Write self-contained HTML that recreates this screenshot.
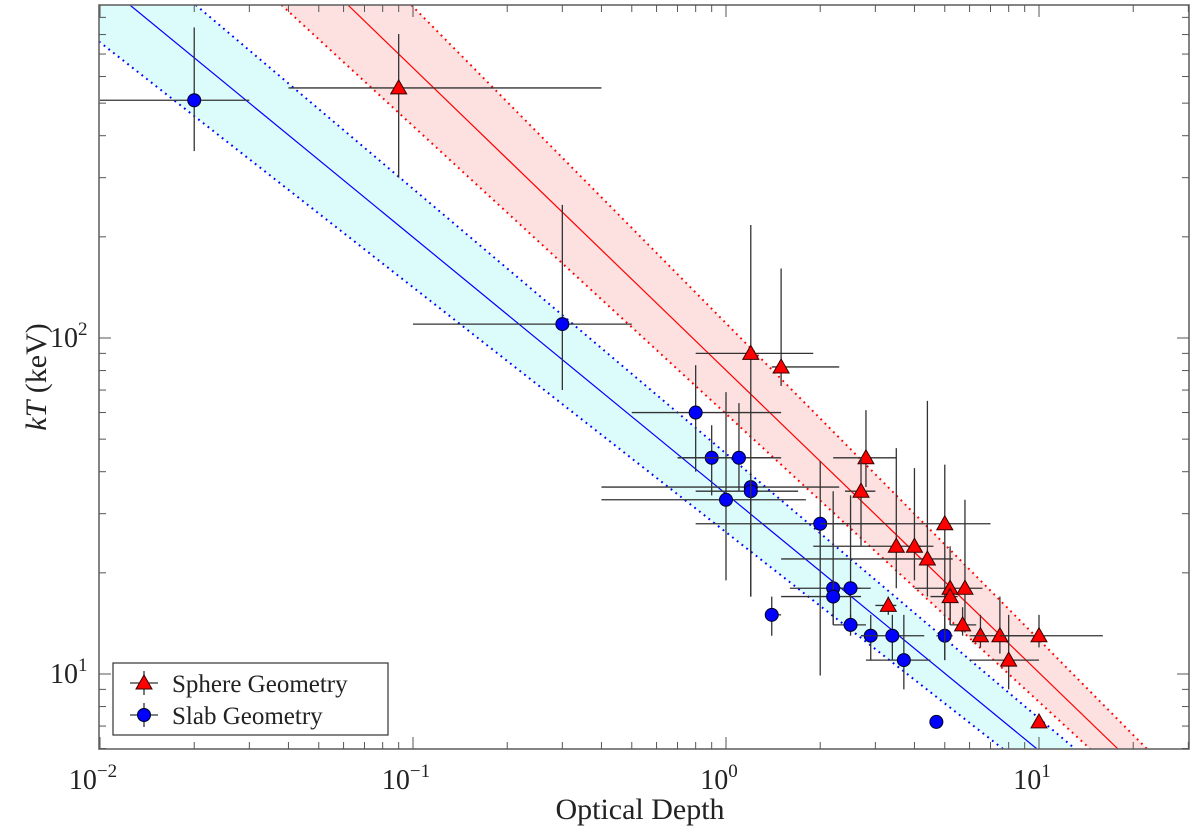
<!DOCTYPE html>
<html><head><meta charset="utf-8"><style>
html,body{margin:0;padding:0;background:#fff;width:1200px;height:830px;overflow:hidden;}
svg{display:block;font-family:"Liberation Serif",serif;}
</style></head><body>
<svg id="chart" width="1200" height="830" viewBox="0 0 1200 830" xmlns="http://www.w3.org/2000/svg">
<defs><clipPath id="clip"><rect x="99" y="5" width="1090" height="744"/></clipPath></defs>
<g id="bands" clip-path="url(#clip)"></g>
<g id="marks"></g>
<g id="axes"></g>
<text x="640" y="819" font-size="30" text-anchor="middle" fill="#222">Optical Depth</text>
<text transform="translate(46,377) rotate(-90)" font-size="30" text-anchor="middle" fill="#222"><tspan font-style="italic">kT</tspan> (keV)</text>
<g>
<rect x="113" y="663" width="275" height="72" fill="#fff" stroke="#333" stroke-width="1.2"/>
<g>
<line x1="130" y1="683" x2="158" y2="683" stroke="#333" stroke-width="1.3"/><line x1="144" y1="671" x2="144" y2="695" stroke="#333" stroke-width="1.3"/>
<polygon points="144,675 152,689 136,689" fill="#f00" stroke="#300" stroke-width="1"/>
<text x="172" y="692" font-size="25" fill="#222">Sphere Geometry</text></g>
<g>
<line x1="130" y1="715" x2="158" y2="715" stroke="#333" stroke-width="1.3"/><line x1="144" y1="703" x2="144" y2="727" stroke="#333" stroke-width="1.3"/>
<circle cx="144" cy="715" r="6.5" fill="#00f" stroke="#002" stroke-width="1"/>
<text x="172" y="724" font-size="25" fill="#222">Slab Geometry</text></g>
</g>
</svg>
<script>
// Slab geometry data
const slabTau   = [0.02, 0.3, 0.8, 0.9, 1.1, 1.2, 1.2, 1.0, 2.0, 2.2, 2.2, 2.5, 2.5, 2.9, 3.4, 3.7, 5.0, 1.4, 4.7];
const slabKT    = [510, 110, 60, 44, 44, 36, 35, 33, 28, 18, 17, 18, 14, 13, 13, 11, 13, 15, 7.2];
const slabTauLo = [0.01, 0.1, 0.5, 0.7, 0.7, 0.4, 0.8, 0.4, 0.8, 1.6, 1.5, 2.3, 2.2, 2.7, 2.7, 2.8, 4.7, 1.35, 4.6];
const slabTauHi = [0.03, 0.5, 1.5, 1.4, 1.5, 2.3, 1.7, 1.8, 3.5, 2.9, 2.7, 2.7, 2.8, 3.0, 4.3, 4.5, 5.3, 1.5, 4.8];
const slabKTLo  = [360, 70, 40, 34, 35, 17, 30, 19, 9.9, 14, 14, 14, 13, 11, 11, 9, 11, 13, 6.9];
const slabKTHi  = [840, 249, 83, 55, 64, 40, 37, 69, 43, 35, 19, 34, 15, 15, 15, 15, 15, 17, 7.5];
// Sphere geometry data
const sphTau   = [0.09, 1.2, 1.5, 2.8, 2.7, 3.5, 4.0, 4.4, 5.0, 5.2, 5.2, 5.8, 5.7, 6.5, 7.5, 8.0, 10, 10, 3.3];
const sphKT    = [555, 90, 82, 44, 35, 24, 24, 22, 28, 18, 17, 18, 14, 13, 13, 11, 13, 7.2, 16];
const sphTauLo = [0.04, 0.8, 1.4, 2.2, 2.4, 1.9, 3.8, 1.5, 2.0, 4.0, 4.5, 5.6, 5.2, 6.2, 6.0, 6.0, 7.5, 9.8, 3.0];
const sphTauHi = [0.4, 1.9, 2.3, 3.5, 3.0, 4.6, 4.2, 5.3, 7.0, 6.6, 5.5, 6.0, 6.3, 6.8, 10, 10, 16, 10.2, 3.5];
const sphKTLo  = [300, 17, 72, 36, 24, 18, 19, 17, 11, 14, 14, 13.3, 13, 12, 11.5, 9, 12, 6.9, 15];
const sphKTHi  = [803, 217, 161, 61, 44, 47, 41, 65, 42, 24, 18, 33, 15.8, 15, 17, 15, 15, 7.5, 17];
// Fit lines: log10(kT) = intercept + slope*log10(tau)
const fitNames      = ['slab-fit', 'slab-fit-upper', 'slab-fit-lower', 'sphere-fit', 'sphere-fit-lower', 'sphere-fit-upper'];
const fitIntercepts = [1.536, 1.656, 1.422, 1.904, 1.774, 2.044];
const fitSlopes     = [-0.764, -0.788, -0.729, -0.900, -0.857, -0.942];
// Tick labels
const xMajorTicks = [0.01, 0.1, 1, 10];
const xTickExp    = ['−2', '−1', '0', '1'];
const yMajorTicks = [10, 100];
const yTickExp    = ['1', '2'];

const X0 = 99, X1 = 1189, Y0 = 5, Y1 = 749;
const xs = v => 1039 + 313 * (Math.log10(v) - 1);
const ys = v => 338 - 336 * (Math.log10(v) - 2);
const xinv = px => Math.pow(10, (px - 1039) / 313 + 1);
const yinv = py => Math.pow(10, 2 + (338 - py) / 336);
const NS = 'http://www.w3.org/2000/svg';
function mk(tag, attrs, parent) {
  const e = document.createElementNS(NS, tag);
  for (const k in attrs) e.setAttribute(k, attrs[k]);
  parent.appendChild(e); return e;
}
const bands = document.getElementById('bands');
const marks = document.getElementById('marks');
const axes = document.getElementById('axes');
const fitY = (i, t) => Math.pow(10, fitIntercepts[i] + fitSlopes[i] * Math.log10(t));
const tAt = (i, k) => Math.pow(10, (Math.log10(k) - fitIntercepts[i]) / fitSlopes[i]);
const tLeft = xinv(X0), tRight = xinv(X1), kTop = yinv(Y0), kBot = yinv(Y1);
const tStart = i => Math.max(tLeft, tAt(i, kTop));
const tEnd = i => Math.min(tRight, tAt(i, kBot));
const P = (t, k) => xs(t).toFixed(1) + ',' + ys(k).toFixed(1);
function bandPoly(iu, il, fill, name) {
  const pts = [P(tLeft, kTop),
    P(tStart(iu), fitY(iu, tStart(iu))), P(tEnd(iu), fitY(iu, tEnd(iu))),
    P(tEnd(il), fitY(il, tEnd(il))), P(tStart(il), fitY(il, tStart(il)))].join(' ');
  const p = mk('polygon', {points: pts, fill: fill}, bands);
  
  
}
bandPoly(1, 2, '#dcfcfc', 'slab-confidence-band');
bandPoly(5, 4, '#fde0e0', 'sphere-confidence-band');
for (let i = 0; i < fitNames.length; i++) {
  const col = i < 3 ? '#0000ff' : '#ff0000';
  const solid = (i === 0 || i === 3);
  const a = tStart(i), b = tEnd(i);
  const l = mk('line', {x1: xs(a), y1: ys(fitY(i, a)), x2: xs(b), y2: ys(fitY(i, b)), stroke: col,
    'stroke-width': solid ? 1.2 : 2, 'stroke-dasharray': solid ? 'none' : '1.8 4.2'}, bands);
  
  
}
function drawSeries(tau, kt, tlo, thi, klo, khi, type) {
  for (let i = 0; i < tau.length; i++) {
    const g = mk('g', {}, marks);
    
    
    const cx = xs(tau[i]), cy = ys(kt[i]);
    mk('line', {x1: xs(tlo[i]), y1: cy, x2: xs(thi[i]), y2: cy, stroke: '#333', 'stroke-width': 1.3}, g);
    mk('line', {x1: cx, y1: ys(klo[i]), x2: cx, y2: ys(khi[i]), stroke: '#333', 'stroke-width': 1.3}, g);
    if (type === 'slab') mk('circle', {cx: cx, cy: cy, r: 6.5, fill: '#0000ff', stroke: '#002', 'stroke-width': 1}, g);
    else mk('polygon', {points: `${cx},${cy-8} ${cx+8},${cy+6} ${cx-8},${cy+6}`, fill: '#ff0000', stroke: '#300', 'stroke-width': 1}, g);
  }
}
drawSeries(slabTau, slabKT, slabTauLo, slabTauHi, slabKTLo, slabKTHi, 'slab');
drawSeries(sphTau, sphKT, sphTauLo, sphTauHi, sphKTLo, sphKTHi, 'sphere');
// axes frame
const fr = mk('rect', {x: X0, y: Y0, width: X1 - X0, height: Y1 - Y0, fill: 'none', stroke: '#666', 'stroke-width': 1.6}, axes);


// x ticks
for (let d = -2; d <= 1; d++) {
  for (let m = 1; m <= 9; m++) {
    const v = m * Math.pow(10, d); if (v > 30) continue;
    const x = xs(v), len = m === 1 ? 12 : 7;
    mk('line', {x1: x, y1: Y1, x2: x, y2: Y1 - len, stroke: '#555', 'stroke-width': 1}, axes);
    mk('line', {x1: x, y1: Y0, x2: x, y2: Y0 + len, stroke: '#555', 'stroke-width': 1}, axes);
  }
}
xMajorTicks.forEach((v, i) => {
  const t = mk('text', {x: xs(v) - 7, y: 789, 'font-size': 28, 'text-anchor': 'middle', fill: '#222'}, axes);
  
  
  t.textContent = '10';
  const s = mk('tspan', {dy: -12, 'font-size': 19}, t); s.textContent = xTickExp[i];
});
// y ticks
for (let d = 0; d <= 2; d++) {
  for (let m = 1; m <= 9; m++) {
    const v = m * Math.pow(10, d); if (v < 6 || v > 990) continue;
    const y = ys(v), len = m === 1 ? 12 : 7;
    mk('line', {x1: X0, y1: y, x2: X0 + len, y2: y, stroke: '#555', 'stroke-width': 1}, axes);
    mk('line', {x1: X1, y1: y, x2: X1 - len, y2: y, stroke: '#555', 'stroke-width': 1}, axes);
  }
}
yMajorTicks.forEach((v, i) => {
  const t = mk('text', {x: 50, y: ys(v) + 9, 'font-size': 28, fill: '#222'}, axes);
  
  
  t.textContent = '10';
  const s = mk('tspan', {dy: -12, 'font-size': 19}, t); s.textContent = yTickExp[i];
});
</script>
</body></html>
